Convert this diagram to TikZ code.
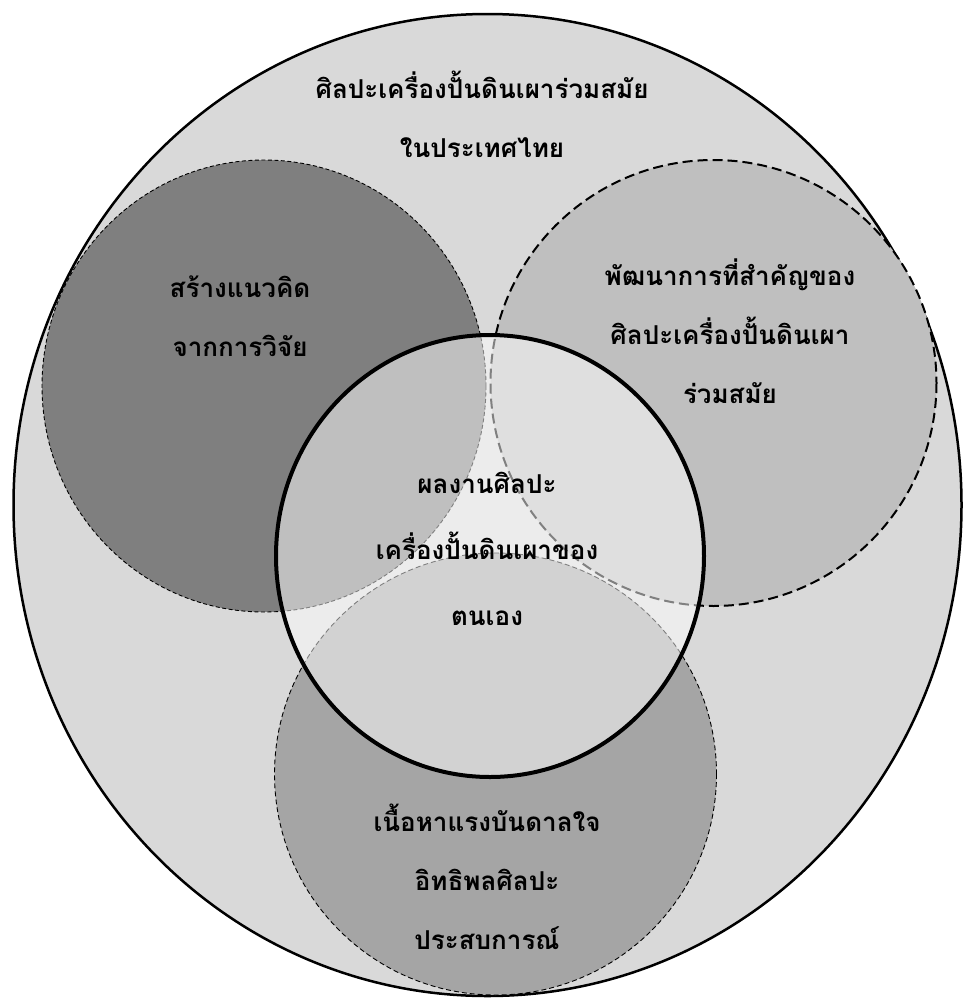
\documentclass[tikz,border=0pt]{standalone}
\usepackage{fontspec}
\newfontfamily\thaifont[Script=Thai]{Loma}
\definecolor{outerc}{HTML}{D9D9D9}
\definecolor{leftc}{HTML}{7F7F7F}
\definecolor{rightc}{HTML}{BFBFBF}
\definecolor{bottomc}{HTML}{A5A5A5}
\tikzset{
  lbl/.style={align=center, font=\thaifont\bfseries\fontsize{26}{59}\selectfont, text=black, inner sep=0pt},
  clbl/.style={lbl, font=\thaifont\bfseries\fontsize{26}{66}\selectfont},
}
\begin{document}
\begin{tikzpicture}[x=1pt,y=-1pt]
\useasboundingbox (0,0) rectangle (963,999);
% outer ellipse
\draw[line width=2.5pt, fill=outerc] (487.5,505) ellipse [x radius=474, y radius=491];
% three circles
\draw[fill=leftc, line width=0.9pt, dash pattern=on 4pt off 2.5pt] (264,386) ellipse [x radius=222, y radius=226];
\draw[fill=rightc, line width=2pt, dash pattern=on 10pt off 5pt] (713.5,383) ellipse [x radius=223, y radius=223];
\draw[fill=bottomc, line width=0.9pt, dash pattern=on 5pt off 3pt] (495.5,774) ellipse [x radius=221, y radius=221];
% centre circle
\draw[line width=4pt, fill=white, fill opacity=0.5] (490,556) ellipse [x radius=214, y radius=221];
% texts
\node[lbl] (top) at (482,114) {ศิลปะเครื่องปั้นดินเผาร่วมสมัย\\ในประเทศไทย};
\node[lbl] (left) at (240,316) {สร้างแนวคิด\\จากการวิจัย};
\node[lbl] (right) at (730,331) {พัฒนาการที่สำคัญของ\\ศิลปะเครื่องปั้นดินเผา\\ร่วมสมัย};
\node[clbl] (centre) at (487,549) {ผลงานศิลปะ\\เครื่องปั้นดินเผาของ\\ตนเอง};
\node[lbl] (bottom) at (487,877) {เนื้อหาแรงบันดาลใจ\\อิทธิพลศิลปะ\\ประสบการณ์};
\end{tikzpicture}
\end{document}
